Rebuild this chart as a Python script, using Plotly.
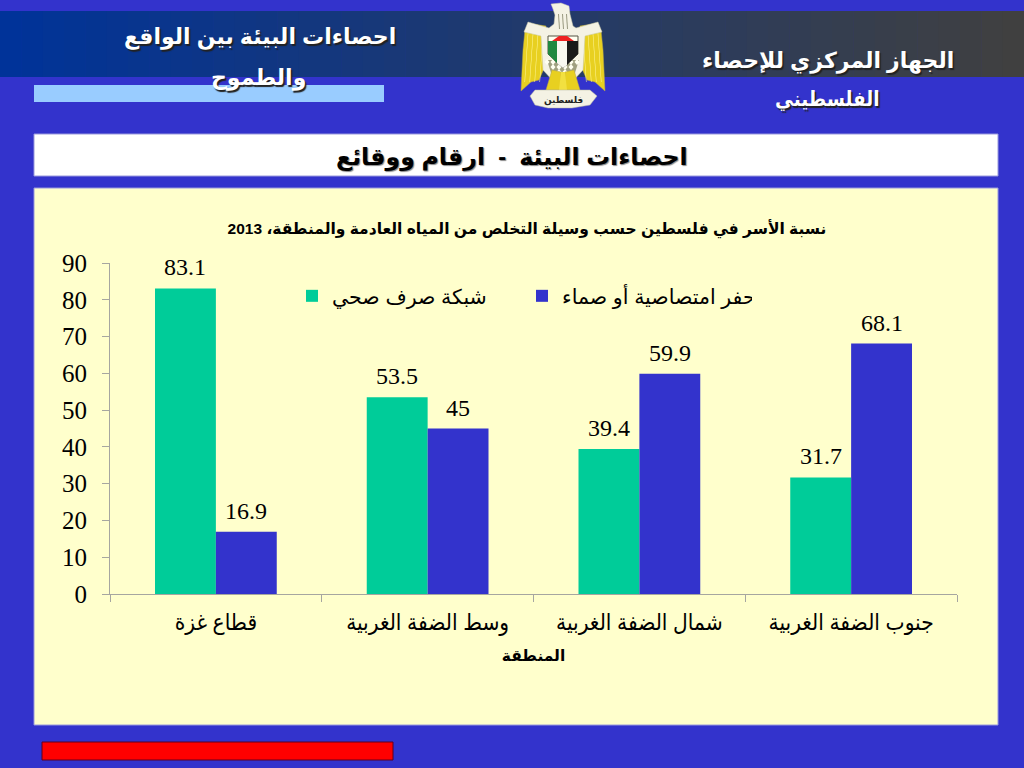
import plotly.graph_objects as go

W, H = 1024, 768

# ---- data ----
categories = ["قطاع غزة", "وسط الضفة الغربية", "شمال الضفة الغربية", "جنوب الضفة الغربية"]
sewer_values = [83.1, 53.5, 39.4, 31.7]
cesspit_values = [16.9, 45, 59.9, 68.1]
sewer_name = "شبكة صرف صحي"
cesspit_name = "حفر امتصاصية أو صماء"
y_ticks = [0, 10, 20, 30, 40, 50, 60, 70, 80, 90]
chart_title = "نسبة الأسر في فلسطين حسب وسيلة التخلص من المياه العادمة والمنطقة، 2013"
x_title = "المنطقة"

SERIF = "'Liberation Serif', 'DejaVu Sans'"
COND = "'Liberation Serif', 'DejaVu Sans Condensed', 'DejaVu Sans'"
SANS = "'Liberation Sans', 'DejaVu Sans'"
BG = "#3333CC"
GREEN = "#00CC99"
AXIS = "#A6A6A0"


def fx(x):
    return x / W


def fy(y):
    return 1 - y / H


def rect(x0, y0, x1, y1, fill, line=None, lw=0):
    return dict(type="rect", xref="paper", yref="paper", x0=fx(x0), x1=fx(x1), y0=fy(y0), y1=fy(y1),
                fillcolor=fill, line=dict(color=line or fill, width=lw), layer="below")


def poly(points, fill, line=None, lw=0):
    path = "M" + " L".join(f"{fx(x):.5f},{fy(y):.5f}" for x, y in points) + " Z"
    return dict(type="path", xref="paper", yref="paper", path=path, fillcolor=fill,
                line=dict(color=line or fill, width=lw), layer="below")


def mirror(points, cx=563):
    return [(2 * cx - x, y) for x, y in points]


shapes = []
# Header band: stepped gradient from blue to dark gray
steps = 48
c0, c1 = (0, 51, 153), (64, 64, 64)
for i in range(steps):
    t = i / (steps - 1)
    col = tuple(round(a + (b - a) * t) for a, b in zip(c0, c1))
    shapes.append(rect(W * i / steps, 11, W * (i + 1) / steps + 0.5, 77, "rgb(%d,%d,%d)" % col))

shapes.append(rect(34, 85, 384, 102, "#99CCFF"))
shapes.append(rect(34, 134, 998, 176, "#FFFFFF", "#9999DD", 1))
shapes.append(rect(34, 188, 998, 725, "#FFFFCC", "#9999DD", 1))
shapes.append(rect(42, 742, 393, 760, "#FF0000", "#600020", 1))

# Emblem
YEL = "#E8D020"
WHT = "#F4F2E4"
wing = [(546, 26), (532, 24), (525, 30), (523, 50), (521, 91), (531, 82), (539, 80), (546, 64)]
for pts in (wing, mirror(wing)):
    shapes.append(poly(pts, YEL, "#B8A848", 0.5))
for xs in (528, 533, 538, 543):
    for m in (False, True):
        seg = [(xs, 30), (xs - 3.5, 82), (xs - 3, 82), (xs + 0.5, 30)]
        shapes.append(poly(mirror(seg) if m else seg, "#FFF8A0"))
body = [(555, 15), (553, 9), (551, 4), (561, 3), (569, 6), (570, 14), (573, 26), (576, 28),
        (598, 22), (602, 32), (585, 36), (583, 70), (572, 82), (554, 82), (543, 70), (541, 36),
        (524, 32), (528, 22), (549, 28), (554, 24)]
shapes.append(poly(body, WHT, "#C8C8A8", 0.5))
for xs in (558, 562, 566):
    shapes.append(poly([(xs, 14), (xs + 1, 14), (xs + 2, 29), (xs + 1, 29)], "#999980"))
lattice = [(547, 60), (579, 60), (574, 76), (552, 76)]
shapes.append(poly(lattice, "#A0A080"))
for yy in (62, 67, 72):
    for xx in (547, 553, 559, 565, 571, 577):
        if abs(xx - 562) < 20 - (yy - 60):
            shapes.append(poly([(xx, yy - 3), (xx + 2.5, yy), (xx, yy + 3), (xx - 2.5, yy)], "#FFFFF0"))
shapes.append(poly([(552, 70), (561, 72), (561, 90), (546, 90)], YEL, "#B8A848", 0.5))
shapes.append(poly([(574, 70), (565, 72), (565, 90), (580, 90)], YEL, "#B8A848", 0.5))
shapes.append(poly([(561, 72), (565, 72), (567, 90), (559, 90)], "#F2E040"))
shapes.append(poly([(548, 36), (578, 36), (578, 54), (563, 68), (548, 54)], "#FFFFF0", "#555544", 1))
shapes.append(poly([(552, 41), (559, 36), (567, 36), (574, 41)], "#EE2222"))
shapes.append(poly([(548, 41), (557, 41), (557, 63), (548, 54)], "#208840"))
shapes.append(poly([(557, 41), (567, 41), (567, 65), (563, 68), (557, 63)], "#F8F8F0"))
shapes.append(poly([(567, 41), (578, 41), (578, 54), (567, 65)], "#1A1A1A"))
shapes.append(poly([(530, 96), (535, 90), (590, 90), (597, 96), (590, 105), (572, 108), (548, 108), (535, 105)],
                   WHT, "#B8B8A0", 0.5))

# Text placed on the slide
annots = []


def text(x, y, s, size, color, family=SANS, shadow="none", bold=False):
    annots.append(dict(xref="paper", yref="paper", x=fx(x), y=fy(y), text=f"<b>{s}</b>" if bold else s,
                       showarrow=False, xanchor="center", yanchor="middle",
                       font=dict(size=size, color=color, family=family, shadow=shadow)))


SHADOW = "1.5px 1.5px 1px #222222"
text(260, 37, "احصاءات البيئة بين الواقع", 22, "white", shadow=SHADOW, bold=True)
text(258, 78, "والطموح", 22, "white", shadow=SHADOW, bold=True)
text(828, 61, "الجهاز المركزي للإحصاء", 22, "white", shadow=SHADOW, bold=True)
text(827, 99, "الفلسطيني", 20.5, "white", family="'DejaVu Sans Condensed', 'DejaVu Sans'", shadow=SHADOW, bold=True)
text(512, 158, "احصاءات البيئة  -  ارقام ووقائع", 23.7, "black", shadow="1px 1px 1px #888888", bold=True)
text(563, 100, "فلسطين", 9, "#222222", bold=True)

# Value labels sit on each bar, a little higher than Plotly's own outside text
for values, shift in ((sewer_values, -30.5), (cesspit_values, 30.5)):
    for cat, v in zip(categories, values):
        annots.append(dict(x=cat, y=v, xref="x", yref="y", text=str(v), showarrow=False, xanchor="center",
                           yanchor="bottom", xshift=shift, yshift=6,
                           font=dict(family=SERIF, size=24, color="black")))

fig = go.Figure()
fig.add_bar(x=categories, y=sewer_values, name=sewer_name, marker=dict(color=GREEN, line=dict(width=0)))
fig.add_bar(x=categories, y=cesspit_values, name=cesspit_name, marker=dict(color=BG, line=dict(width=0)))

fig.update_layout(
    width=W, height=H, autosize=False,
    margin=dict(l=0, r=0, t=0, b=0, autoexpand=False),
    paper_bgcolor=BG, plot_bgcolor="rgba(0,0,0,0)",
    barmode="group", bargap=0.425, bargroupgap=0,
    shapes=shapes, annotations=annots,
    showlegend=True,
    legend=dict(orientation="h", x=fx(292), y=fy(296), xanchor="left", yanchor="middle",
                bgcolor="rgba(0,0,0,0)", font=dict(family=SANS, size=20.5, color="black"),
                traceorder="normal", itemwidth=30, entrywidth=185, entrywidthmode="pixels", itemclick=False),
    title=dict(text=f"<b>{chart_title}</b>", x=fx(527), y=fy(229), xanchor="center", yanchor="middle",
               font=dict(family=SANS, size=15.5, color="black")),
    xaxis=dict(domain=[fx(110), fx(957)], anchor="y", type="category", categoryorder="array",
               categoryarray=categories, showgrid=False, showline=True, linecolor=AXIS, linewidth=1,
               ticks="outside", tickson="boundaries", ticklen=7, tickcolor=AXIS, tickwidth=1,
               ticklabelstandoff=8,
               tickfont=dict(family=COND, size=22.5, color="black"),
               title=dict(text=f"<b>{x_title}</b>", standoff=15,
                          font=dict(family=SANS, size=15.5, color="black"))),
    yaxis=dict(domain=[fy(594), fy(263)], range=[0, 90], tickvals=y_ticks, showgrid=False, zeroline=False,
               showline=True, linecolor=AXIS, linewidth=1, ticks="outside", ticklen=7, tickcolor=AXIS,
               tickwidth=1, ticklabelstandoff=10, tickfont=dict(family=SERIF, size=25, color="black")),
)

fig.write_html("out.html", post_script="document.body.style.margin='0';", config={"displayModeBar": False})
